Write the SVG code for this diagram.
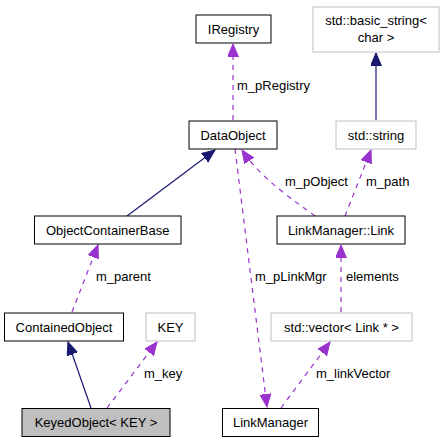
<svg xmlns="http://www.w3.org/2000/svg" width="444" height="443" viewBox="0 0 444 443">
<style>
text{font-family:"Liberation Sans",Arial,Helvetica,sans-serif;font-size:13px;fill:#000}
.c{text-anchor:middle}
.n{fill:#fff;stroke:#000;stroke-width:1}
.g{fill:#fff;stroke:#bfbfbf;stroke-width:1}
.h{fill:#bfbfbf;stroke:#000;stroke-width:1}
.inh{fill:none;stroke:#191970;stroke-width:1.2}
.use{fill:none;stroke:#9a32cd;stroke-width:1.2;stroke-dasharray:5,5}
</style>
<defs>
<marker id="an" markerUnits="userSpaceOnUse" markerWidth="14" markerHeight="12" refX="13" refY="5.5" orient="auto" viewBox="0 0 14 12">
<path d="M0,0 L13,5.5 L0,11 z" fill="#191970" stroke="#191970"/>
</marker>
<marker id="ap" markerUnits="userSpaceOnUse" markerWidth="14" markerHeight="12" refX="13" refY="5.5" orient="auto" viewBox="0 0 14 12">
<path d="M0,0 L13,5.5 L0,11 z" fill="#9a32cd" stroke="#9a32cd"/>
</marker>
</defs>
<rect width="444" height="443" fill="#fff"/>
<g id="edges">
<path class="use" d="M233,120 L233,44" marker-end="url(#ap)"/>
<text x="237" y="90">m_pRegistry</text>
<path class="inh" d="M376,120 L376,53" marker-end="url(#an)"/>
<path class="inh" d="M127,216 L215,150" marker-end="url(#an)"/>
<path class="use" d="M235,149 L267,407" marker-end="url(#ap)"/>
<text x="255" y="281">m_pLinkMgr</text>
<path class="use" d="M315,216 C295,201 262,180 242,150" marker-end="url(#ap)"/>
<text x="285" y="186">m_pObject</text>
<path class="use" d="M345,216 L371,150" marker-end="url(#ap)"/>
<text x="366" y="186">m_path</text>
<path class="use" d="M72,312 L98,245" marker-end="url(#ap)"/>
<text x="96" y="281">m_parent</text>
<path class="use" d="M341,312 L341,245" marker-end="url(#ap)"/>
<text x="346" y="281">elements</text>
<path class="inh" d="M91,408 L68,342" marker-end="url(#an)"/>
<path class="use" d="M107,408 L157,342" marker-end="url(#ap)"/>
<text x="144" y="378">m_key</text>
<path class="use" d="M281,408 L330,342" marker-end="url(#ap)"/>
<text x="316" y="378">m_linkVector</text>
</g>
<g id="IRegistry"><rect class="n" x="196" y="15" width="75" height="28"/><text class="c" x="233.5" y="33.5">IRegistry</text></g>
<g id="basic_string"><rect class="g" x="313" y="7" width="126" height="45"/><text class="c" x="376" y="24.5">std::basic_string&lt;</text><text class="c" x="376" y="41.5">char &gt;</text></g>
<g id="DataObject"><rect class="n" x="189" y="121" width="88" height="28"/><text class="c" x="233" y="139.5">DataObject</text></g>
<g id="string"><rect class="g" x="336" y="121" width="80" height="28"/><text class="c" x="376" y="139.5">std::string</text></g>
<g id="ObjectContainerBase"><rect class="n" x="34.5" y="216" width="146.5" height="28"/><text class="c" x="107.7" y="234.5">ObjectContainerBase</text></g>
<g id="Link"><rect class="n" x="277" y="216" width="128" height="28"/><text class="c" x="341" y="234.5">LinkManager::Link</text></g>
<g id="ContainedObject"><rect class="n" x="4.5" y="313" width="119" height="28"/><text class="c" x="64" y="331.5">ContainedObject</text></g>
<g id="KEY"><rect class="g" x="146" y="313" width="49" height="28"/><text class="c" x="170.5" y="331.5">KEY</text></g>
<g id="vector"><rect class="g" x="271" y="313" width="141" height="28"/><text class="c" x="341.5" y="331.5">std::vector&lt; Link * &gt;</text></g>
<g id="KeyedObject"><rect class="h" x="22" y="408.5" width="148" height="28"/><text class="c" x="96" y="427">KeyedObject&lt; KEY &gt;</text></g>
<g id="LinkManager"><rect class="n" x="222.5" y="408.5" width="96" height="28"/><text class="c" x="270.5" y="427">LinkManager</text></g>
</svg>
